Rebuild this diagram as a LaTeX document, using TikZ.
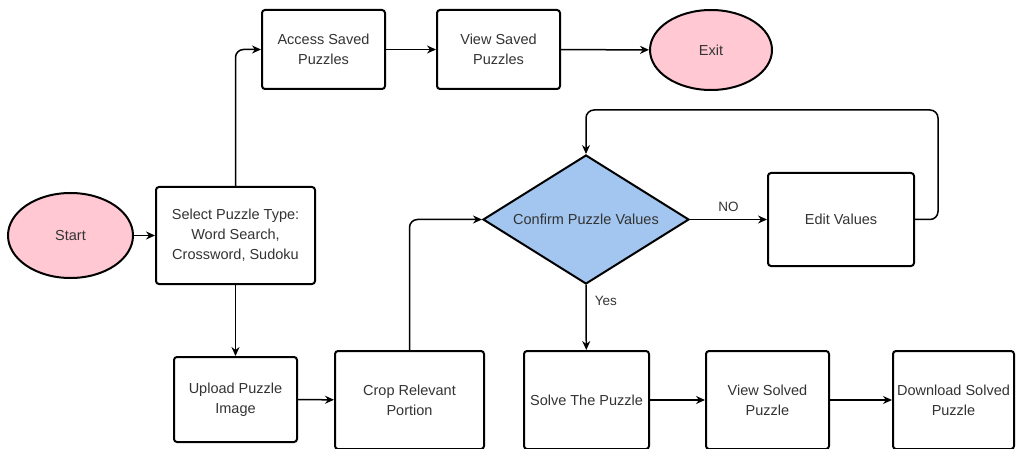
\documentclass[tikz,border=0pt]{standalone}
\usepackage{fontspec}
\setmainfont{Liberation Sans}
\usetikzlibrary{shapes.geometric,arrows.meta}
\definecolor{pinkfill}{HTML}{FFC8D2}
\definecolor{bluefill}{HTML}{A2C6EF}
\definecolor{txt}{HTML}{333333}
\begin{document}
\begin{tikzpicture}[x=1pt,y=-1pt,
  every node/.style={font=\fontsize{14.5}{20}\selectfont, text=txt, align=center, inner sep=0pt},
  box/.style={draw=black, line width=2pt, rounded corners=3pt, fill=white},
  term/.style={draw=black, line width=2pt, ellipse, fill=pinkfill},
  dec/.style={draw=black, line width=2pt, diamond, aspect=1.6, fill=bluefill, line join=miter},
  conn/.style={draw=black, line width=1.5pt, rounded corners=8pt, -{Stealth[length=9pt,width=8pt,inset=3pt]}},
  lbl/.style={font=\fontsize{13.5}{16}\selectfont}
]
\useasboundingbox (0,0) rectangle (1017,449);
\node[term, minimum width=125pt, minimum height=85pt] (start) at (70.5,235.5) {Start};
\node[box, minimum width=159pt, minimum height=97pt] (select) at (235.5,235.5) {Select Puzzle Type:\\Word Search,\\Crossword, Sudoku};
\node[box, minimum width=123pt, minimum height=79pt] (access) at (323.5,49.5) {Access Saved\\Puzzles};
\node[box, minimum width=123pt, minimum height=79pt] (viewsaved) at (498.5,49.5) {View Saved\\Puzzles};
\node[term, minimum width=122pt, minimum height=80pt] (exit) at (711,50) {Exit};
\node[dec, minimum width=206pt, minimum height=129pt] (conf) at (586,219.5) {Confirm Puzzle Values};
\node[box, minimum width=146pt, minimum height=93pt] (edit) at (841,219.5) {Edit Values};
\node[box, minimum width=123pt, minimum height=85pt] (upload) at (235.5,399.5) {Upload Puzzle\\Image};
\node[box, minimum width=149pt, minimum height=98pt] (crop) at (409.5,400) {Crop Relevant\\Portion};
\node[box, minimum width=125pt, minimum height=98pt] (solve) at (586.5,400) {Solve The Puzzle};
\node[box, minimum width=123pt, minimum height=98pt] (viewsolved) at (767.5,400) {View Solved\\Puzzle};
\node[box, minimum width=121pt, minimum height=98pt] (download) at (953.5,400) {Download Solved\\Puzzle};
\coordinate (loop) at (938,110);

\draw[conn] (start) -- (select);
\draw[conn] (select.north) |- (access.west);
\draw[conn] (access) -- (viewsaved);
\draw[conn] (viewsaved) -- (exit);
\draw[conn] (select) -- (upload);
\draw[conn] (upload) -- (crop);
\draw[conn] (crop.north) |- (conf.west);
\draw[conn] (conf.east) -- node[lbl, above=7pt] {NO} (edit);
\draw[conn] (edit.east) -| (loop) -| (conf.north);
\draw[conn] (conf.south) -- node[lbl, pos=0.25, right=8pt] {Yes} (solve);
\draw[conn] (solve) -- (viewsolved);
\draw[conn] (viewsolved) -- (download);
\end{tikzpicture}
\end{document}
